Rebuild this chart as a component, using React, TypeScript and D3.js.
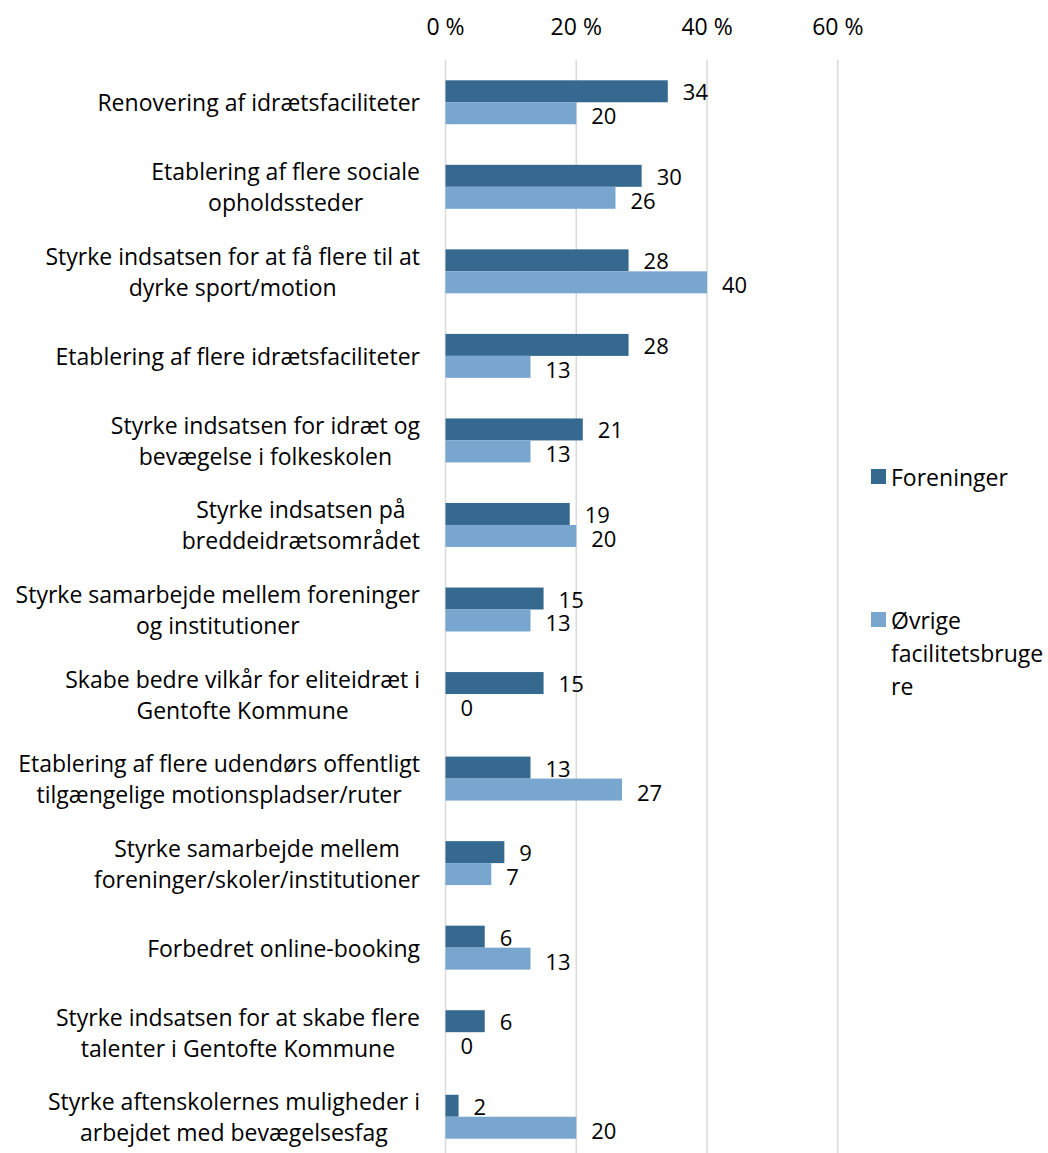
import React from 'react';
import * as d3 from 'd3';

const categories: string[][] = [
  ['Renovering af idrætsfaciliteter'],
  ['Etablering af flere sociale', 'opholdssteder'],
  ['Styrke indsatsen for at få flere til at', 'dyrke sport/motion'],
  ['Etablering af flere idrætsfaciliteter'],
  ['Styrke indsatsen for idræt og', 'bevægelse i folkeskolen'],
  ['Styrke indsatsen på', 'breddeidrætsområdet'],
  ['Styrke samarbejde mellem foreninger', 'og institutioner'],
  ['Skabe bedre vilkår for eliteidræt i', 'Gentofte Kommune'],
  ['Etablering af flere udendørs offentligt', 'tilgængelige motionspladser/ruter'],
  ['Styrke samarbejde mellem', 'foreninger/skoler/institutioner'],
  ['Forbedret online-booking'],
  ['Styrke indsatsen for at skabe flere', 'talenter i Gentofte Kommune'],
  ['Styrke aftenskolernes muligheder i', 'arbejdet med bevægelsesfag'],
];

const foreninger = [34, 30, 28, 28, 21, 19, 15, 15, 13, 9, 6, 6, 2];
const oevrige = [20, 26, 40, 13, 13, 20, 13, 0, 27, 7, 13, 0, 20];

const seriesNames = ['Foreninger', 'Øvrige facilitetsbrugere'];
const legendLines = [['Foreninger'], ['Øvrige', 'facilitetsbruge', 're']];
const colors = ['#36698f', '#78a6cf'];
const xTicks = [0, 20, 40, 60];

const FONT = '"Open Sans", "Noto Sans", sans-serif';
const FS = 23;

const measure = (() => {
  let ctx: CanvasRenderingContext2D | null = null;
  return (txt: string) => {
    if (!ctx) {
      ctx = document.createElement('canvas').getContext('2d');
    }
    if (!ctx) return txt.length * FS * 0.5;
    ctx.font = `${FS}px ${FONT}`;
    return ctx.measureText(txt).width;
  };
})();

const App = () => {
  const width = 1048;
  const height = 1153;
  const labelRight = 420;

  const x = d3.scaleLinear().domain([0, 60]).range([445.5, 837.8]);
  const idx = categories.map((_, i) => String(i));
  const y = d3.scaleBand().domain(idx).range([60, 1159]).paddingInner(0.48).paddingOuter(0.24);
  const ySub = d3.scaleBand().domain(['0', '1']).range([0, y.bandwidth()]);
  const lineH = 31;

  return (
    <div style={{ position: 'absolute', left: 0, top: 0 }}>
      <svg width={width} height={height} style={{ display: 'block', fontFamily: FONT }}>
        <rect width={width} height={height} fill="#fff" />
        {/* grid */}
        {xTicks.map((t) => (
          <line key={t} x1={x(t)} x2={x(t)} y1={60} y2={1159} stroke="#d9d9d9" strokeWidth={1.5} />
        ))}
        {xTicks.map((t) => (
          <text key={t} x={x(t)} y={26} fontSize={FS} textAnchor="middle" dominantBaseline="central" fill="#000">
            {`${t} %`}
          </text>
        ))}
        {/* bars */}
        {categories.map((lines, i) => {
          const y0 = y(String(i)) as number;
          const vals = [foreninger[i], oevrige[i]];
          const cy = y0 + y.bandwidth() / 2;
          const maxW = d3.max(lines, (l) => measure(l)) as number;
          const cx = labelRight - maxW / 2;
          return (
            <g key={i}>
              {vals.map((v, s) => {
                const by = y0 + (ySub(String(s)) as number);
                return (
                  <g key={s}>
                    <rect x={x(0)} y={by} width={x(v) - x(0)} height={ySub.bandwidth()} fill={colors[s]} />
                    <text
                      x={x(v) + 15}
                      y={by + ySub.bandwidth() / 2 + (s === 0 ? 0 : 2)}
                      fontSize={22}
                      dominantBaseline="central"
                      fill="#000"
                    >
                      {v}
                    </text>
                  </g>
                );
              })}
              {lines.map((l, k) => (
                <text
                  key={k}
                  x={cx}
                  y={cy + (k - (lines.length - 1) / 2) * lineH}
                  fontSize={FS}
                  textAnchor="middle"
                  dominantBaseline="central"
                  fill="#000"
                >
                  {l}
                </text>
              ))}
            </g>
          );
        })}
        {/* legend */}
        {seriesNames.map((name, s) => {
          const top = s === 0 ? 469 : 612;
          return (
            <g key={name}>
              <rect x={871} y={top} width={15} height={15} fill={colors[s]} />
              {legendLines[s].map((l, k) => (
                <text key={k} x={891} y={top + 8 + k * 33} fontSize={FS} dominantBaseline="central" fill="#000">
                  {l}
                </text>
              ))}
            </g>
          );
        })}
      </svg>
    </div>
  );
};

export default App;
